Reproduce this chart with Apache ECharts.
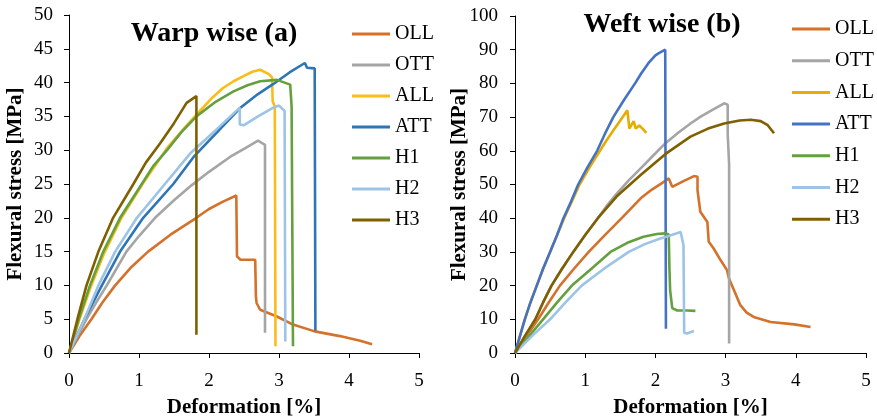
<!DOCTYPE html>
<html>
<head>
<meta charset="utf-8">
<script src="https://cdn.jsdelivr.net/npm/echarts@6/dist/echarts.min.js"></script>
<style>
html,body{margin:0;padding:0;background:#fff;}
#c{width:877px;height:418px;}
</style>
</head>
<body>
<div id="c"></div>
<script>
// ---- data: [deformation %, flexural stress MPa] ----
var seriesNames = ['OLL','OTT','ALL','ATT','H1','H2','H3'];
var xTicks = [0,1,2,3,4,5];

// Warp wise (a)
var warpOLL = [[0,0],[0.15,2.5],[0.32,5],[0.48,7.5],[0.66,10],[0.88,12.6],[1.13,15],[1.45,17.5],[1.82,20],[2.0,21.3],[2.2,22.4],[2.39,23.3],[2.4,14.3],[2.45,13.8],[2.66,13.8],[2.67,8.4],[2.68,7.4],[2.73,6.4],[2.97,5.4],[3.2,4.2],[3.51,3.2],[3.87,2.5],[4.16,1.8],[4.33,1.3]];
var warpOTT = [[0,0],[0.12,2.5],[0.25,5],[0.39,7.5],[0.54,10],[0.68,12.5],[0.82,15],[1.0,17.3],[1.23,20],[1.5,22.6],[1.75,24.8],[2.0,26.8],[2.3,29],[2.55,30.5],[2.7,31.4],[2.8,30.8],[2.8,3.0]];
var warpALL = [[0,0],[0.15,5],[0.3,9.5],[0.5,14.7],[0.75,20],[1.05,25],[1.4,30.3],[1.65,33.3],[1.87,35.8],[2.05,37.8],[2.2,39.2],[2.35,40.2],[2.5,41],[2.62,41.6],[2.73,41.9],[2.85,41.3],[2.9,40.8],[2.91,37.2],[2.94,36.5],[2.95,1.0]];
var warpATT = [[0,0],[0.22,5],[0.47,10],[0.73,15],[1.06,20],[1.49,25],[1.78,29],[2.1,32.5],[2.44,36.2],[2.7,38.3],[2.92,39.8],[3.15,41.5],[3.37,42.9],[3.4,42.2],[3.51,42.1],[3.52,3.3]];
var warpH1 = [[0,0],[0.14,5],[0.3,10],[0.49,15],[0.73,20],[1.04,25],[1.2,27.6],[1.4,30],[1.6,32.6],[1.82,35],[2.1,37.2],[2.35,38.7],[2.55,39.6],[2.73,40.2],[2.97,40.4],[3.16,39.7],[3.18,36.5],[3.2,1.0]];
var warpH2 = [[0,0],[0.2,4.5],[0.42,10],[0.66,15],[0.97,20],[1.37,25],[1.73,29.5],[2.1,33],[2.44,36.3],[2.44,33.8],[2.5,33.7],[2.7,35],[2.9,36.2],[3.0,36.6],[3.08,35.8],[3.09,1.7]];
var warpH3 = [[0,0],[0.12,5],[0.25,10],[0.42,15],[0.63,20],[0.92,25],[1.1,28.2],[1.3,31],[1.5,34],[1.68,37],[1.82,38],[1.82,2.7]];

// Weft wise (b)
var weftOLL = [[0,0],[0.16,5],[0.33,10],[0.48,15],[0.64,20],[0.84,25],[1.05,30],[1.28,35],[1.52,40],[1.79,45.9],[1.95,48.5],[2.12,50.8],[2.19,51.8],[2.24,49.3],[2.4,51],[2.55,52.5],[2.6,52.3],[2.6,48.3],[2.64,41.9],[2.74,38.9],[2.76,33],[2.83,31],[2.93,27.5],[3.02,24.6],[3.05,22],[3.12,18.6],[3.21,14.2],[3.3,12],[3.4,10.7],[3.64,9.2],[3.98,8.5],[4.21,7.7]];
var weftOTT = [[0,0],[0.14,5],[0.29,10],[0.4,15],[0.52,20],[0.67,25],[0.83,30],[1.0,35],[1.18,40],[1.3,43.5],[1.45,47.3],[1.62,51.2],[1.79,54.8],[1.97,58.6],[2.14,62.2],[2.32,65.3],[2.5,68.1],[2.65,70.2],[2.8,72],[2.98,74.1],[3.03,73.7],[3.03,65],[3.05,56],[3.05,2.8]];
var weftALL = [[0,0],[0.07,5],[0.14,10],[0.22,15],[0.31,20],[0.4,25],[0.5,30],[0.6,35],[0.7,40],[0.81,45],[0.92,50],[1.06,55],[1.21,60],[1.3,63],[1.4,66],[1.5,69],[1.55,70.5],[1.6,72],[1.63,66.6],[1.69,68.8],[1.72,66.6],[1.77,67.5],[1.82,66.5],[1.87,65.3]];
var weftATT = [[0,0],[0.07,5],[0.14,10],[0.22,15],[0.31,20],[0.4,25],[0.5,30],[0.6,35],[0.69,40],[0.8,45],[0.9,50],[1.03,55],[1.17,60],[1.28,65],[1.4,70],[1.55,75],[1.71,80],[1.8,83],[1.9,86],[2.0,88.3],[2.05,89],[2.14,90],[2.15,7.2]];
var weftH1 = [[0,0],[0.2,5],[0.4,10],[0.6,15],[0.81,20],[1.06,24.5],[1.36,30],[1.6,32.7],[1.83,34.5],[2.02,35.3],[2.14,35.5],[2.19,35.2],[2.2,25],[2.21,18.6],[2.24,13.3],[2.31,12.6],[2.45,12.6],[2.57,12.5]];
var weftH2 = [[0,0],[0.24,5],[0.5,10],[0.72,15],[0.95,20],[1.3,25.5],[1.62,30],[1.85,32.3],[2.07,34],[2.2,34.8],[2.36,35.9],[2.38,35.5],[2.4,32],[2.41,6],[2.45,5.8],[2.55,6.5]];
var weftH3 = [[0,0],[0.14,5],[0.29,10],[0.4,15],[0.52,20],[0.67,25],[0.83,30],[1.0,35],[1.18,40],[1.45,46.5],[1.79,52.8],[2.14,59],[2.5,64.2],[2.75,66.6],[2.98,68.1],[3.2,69],[3.36,69.2],[3.5,68.8],[3.6,67.6],[3.69,65.2]];

var warpData = [warpOLL, warpOTT, warpALL, warpATT, warpH1, warpH2, warpH3];
var weftData = [weftOLL, weftOTT, weftALL, weftATT, weftH1, weftH2, weftH3];

var warpColors = ['#D4712B','#A5A5A5','#FBBC1A','#2E75B6','#65A03F','#9DC3E6','#7F6000'];
var weftColors = ['#D4712B','#A5A5A5','#E6AC00','#4472C4','#65A03F','#9DC3E6','#7F6000'];

var FONT = '"Liberation Serif","Times New Roman",serif';

function axisCommon(extra, labelMargin) {
  var o = {
    axisLine: {show: true, onZero: false, lineStyle: {color: '#000', width: 1}},
    axisTick: {show: true, inside: false, length: 5, lineStyle: {color: '#000'}},
    splitLine: {show: false},
    axisLabel: {color: '#000', fontFamily: FONT, fontSize: 19, margin: labelMargin},
    nameLocation: 'middle',
    nameMoveOverlap: false,
    nameTextStyle: {color: '#000', fontFamily: FONT, fontSize: 21, fontWeight: 'bold'}
  };
  for (var k in extra) o[k] = extra[k];
  return o;
}

var series = [];
var i;
for (i = 0; i < seriesNames.length; i++) {
  series.push({type: 'line', name: seriesNames[i], xAxisIndex: 0, yAxisIndex: 0,
    data: warpData[i], symbol: 'none', animation: false,
    lineStyle: {color: warpColors[i], width: 2.6}, itemStyle: {color: warpColors[i]}});
}
for (i = 0; i < seriesNames.length; i++) {
  series.push({type: 'line', name: seriesNames[i], xAxisIndex: 1, yAxisIndex: 1,
    data: weftData[i], symbol: 'none', animation: false,
    lineStyle: {color: weftColors[i], width: 2.6}, itemStyle: {color: weftColors[i]}});
}

function legendData(colors) {
  return seriesNames.map(function (n, k) {
    return {name: n, icon: 'rect', itemStyle: {color: colors[k]}, lineStyle: {color: colors[k]}};
  });
}

var chart = echarts.init(document.getElementById('c'), null, {renderer: 'canvas'});
chart.setOption({
  animation: false,
  backgroundColor: '#fff',
  title: [
    {text: 'Warp wise (a)', left: 209, top: 15, textAlign: 'center',
      textStyle: {fontFamily: FONT, fontSize: 28, fontWeight: 'bold', color: '#000'}},
    {text: 'Weft wise (b)', left: 657, top: 6, textAlign: 'center',
      textStyle: {fontFamily: FONT, fontSize: 28, fontWeight: 'bold', color: '#000'}}
  ],
  legend: [
    {orient: 'vertical', left: 352, top: 24, padding: 0, itemWidth: 38, itemHeight: 3, itemGap: 11,
      selectedMode: false, data: legendData(warpColors),
      textStyle: {fontFamily: FONT, fontSize: 20, color: '#000', lineHeight: 20}},
    {orient: 'vertical', left: 792, top: 19, padding: 0, itemWidth: 38, itemHeight: 3, itemGap: 11.7,
      selectedMode: false, data: legendData(weftColors),
      textStyle: {fontFamily: FONT, fontSize: 20, color: '#000', lineHeight: 20}}
  ],
  grid: [
    {left: 69, top: 15, width: 350, height: 338, containLabel: false, outerBoundsMode: 'none'},
    {left: 515, top: 16, width: 351, height: 337, containLabel: false, outerBoundsMode: 'none'}
  ],
  xAxis: [
    axisCommon({type: 'value', gridIndex: 0, min: 0, max: 5, interval: 1, name: 'Deformation [%]', nameGap: 44}, 19),
    axisCommon({type: 'value', gridIndex: 1, min: 0, max: 5, interval: 1, name: 'Deformation [%]', nameGap: 44}, 19)
  ],
  yAxis: [
    axisCommon({type: 'value', gridIndex: 0, min: 0, max: 50, interval: 5, name: 'Flexural stress [MPa]', nameGap: 43}, 16),
    axisCommon({type: 'value', gridIndex: 1, min: 0, max: 100, interval: 10, name: 'Flexural stress [MPa]', nameGap: 45}, 17)
  ],
  series: series
});
</script>
</body>
</html>
